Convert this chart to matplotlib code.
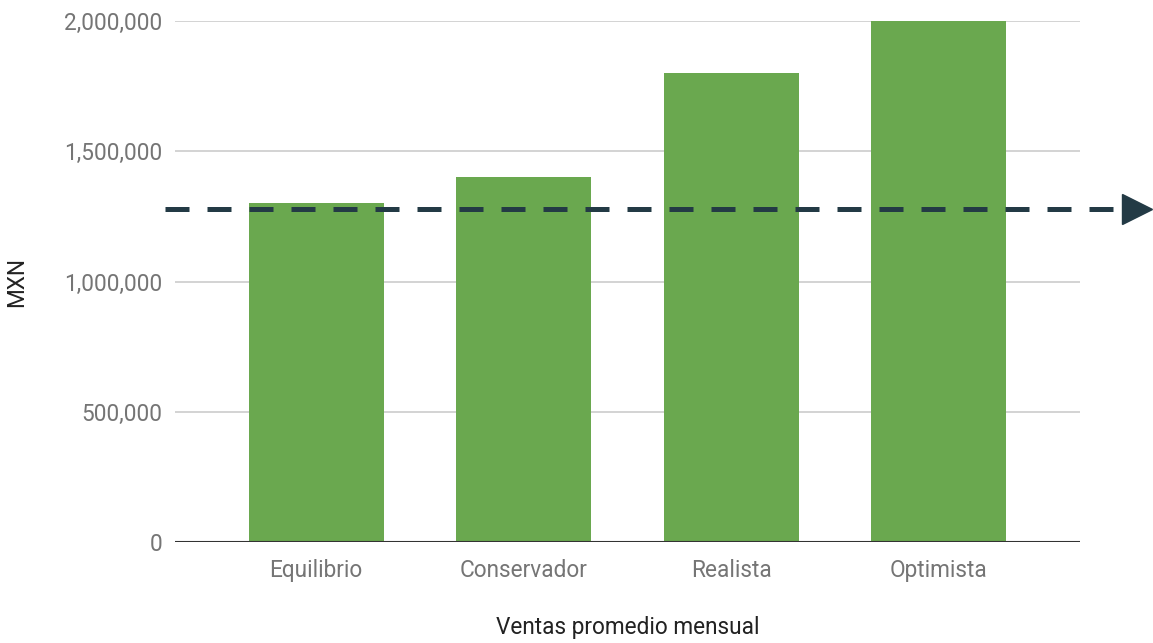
import matplotlib
matplotlib.use("Agg")
import matplotlib.pyplot as plt
import matplotlib.transforms as mtransforms
from matplotlib.ticker import FuncFormatter

categories = ["Equilibrio", "Conservador", "Realista", "Optimista"]
ventas = [1300000, 1400000, 1800000, 2000000]
umbral = 1280000
yticks = [0, 500000, 1000000, 1500000, 2000000]

plt.rcParams['font.family'] = ['Roboto', 'DejaVu Sans']

fig = plt.figure(figsize=(11.53, 6.43), dpi=100)
ax = fig.add_axes([0.1518, 0.1571, 0.7849, 0.8102])

x = range(len(categories))
ax.bar(x, ventas, width=0.65, color="#6aa84f", zorder=2)

ax.set_xlim(-0.68, 3.68)
ax.set_ylim(0, 2000000)
ax.set_yticks(yticks)
ax.yaxis.set_major_formatter(FuncFormatter(lambda v, p: f"{int(v):,}"))
ax.set_xticks(list(x))
ax.set_xticklabels(categories)

ax.grid(axis="y", color="#cccccc", linewidth=1.2, zorder=0)
ax.axhline(0, color="#333333", linewidth=1.5, zorder=3)
for s in ax.spines.values():
    s.set_visible(False)
ax.tick_params(axis="both", length=0, labelsize=16.3, colors="#757575", pad=12)
ax.tick_params(axis="y", pad=9)

ax.set_xlabel("Ventas promedio mensual", fontsize=16.3, color="#222222", labelpad=25)
ax.set_ylabel("MXN", fontsize=16.3, color="#222222", labelpad=26)

# linea de umbral con flecha
trans = mtransforms.blended_transform_factory(ax.transAxes, ax.transData)
ax.plot([-0.011, 1.048], [umbral, umbral], transform=trans, color="#233a45",
        linewidth=3.6, dashes=(4.8, 3.6), clip_on=False, zorder=4)
ax.plot([1.063], [umbral], transform=trans, marker=">", markersize=22,
        color="#233a45", clip_on=False, zorder=4)

fig.savefig("out.png", dpi=100)
